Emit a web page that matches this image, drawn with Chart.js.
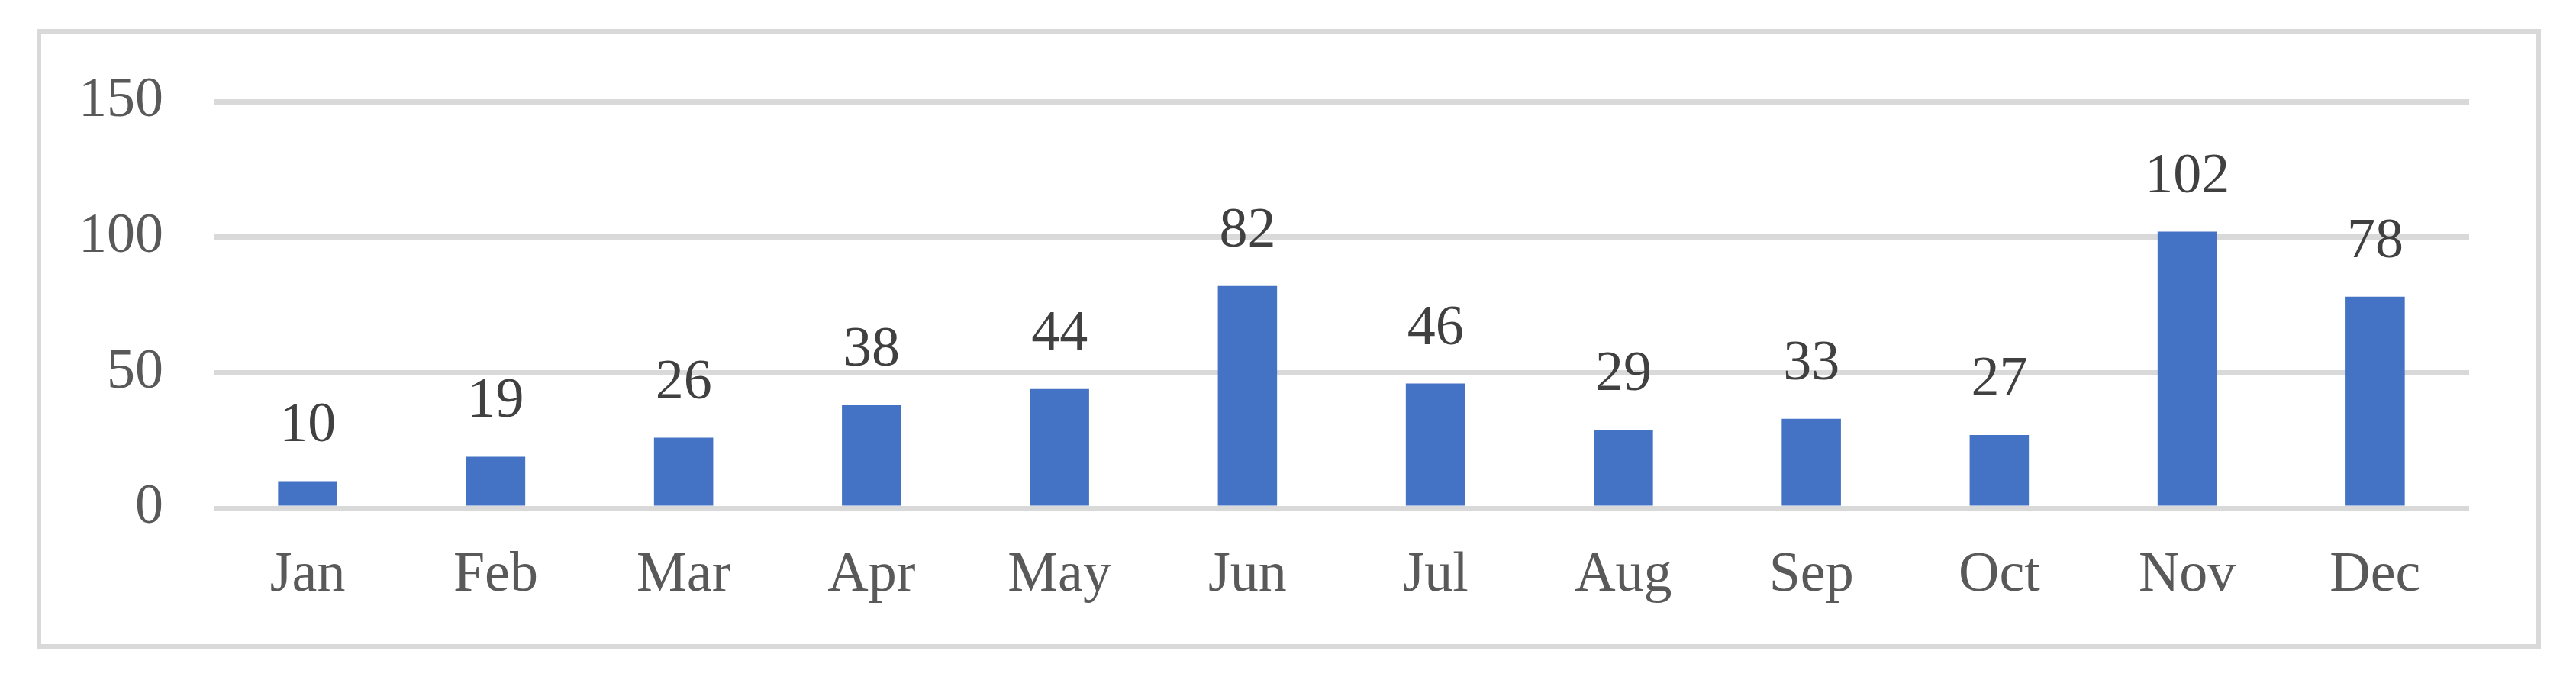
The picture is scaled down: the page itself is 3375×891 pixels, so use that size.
<!DOCTYPE html>
<html>
<head>
<meta charset="utf-8">
<title>Monthly chart</title>
<script src="https://cdn.jsdelivr.net/npm/chart.js@4.4.0/dist/chart.umd.min.js"></script>
<style>
  html, body { margin: 0; padding: 0; background: #ffffff; }
  #wrap { position: relative; width: 3375px; height: 891px; }
  #frame {
    position: absolute; left: 48px; top: 38px; width: 3281px; height: 812px;
    box-sizing: border-box; border: 6px solid #d9d9d9;
  }
  #myChart { position: absolute; left: 0; top: 0; }
</style>
</head>
<body>
<div id="wrap">
  <div id="frame"></div>
  <canvas id="myChart" width="3375" height="891"></canvas>
</div>
<script>
    const months = ['Jan', 'Feb', 'Mar', 'Apr', 'May', 'Jun', 'Jul', 'Aug', 'Sep', 'Oct', 'Nov', 'Dec'];
    const values = [10, 19, 26, 38, 44, 82, 46, 29, 33, 27, 102, 78];
    const yTicks = [0, 50, 100, 150];

    const serif = '"Liberation Serif", "Times New Roman", serif';

    // value labels above each bar
    const barLabels = {
        id: 'barLabels',
        afterDatasetsDraw(chart) {
            const ctx = chart.ctx;
            const meta = chart.getDatasetMeta(0);
            ctx.save();
            ctx.font = '74px ' + serif;
            ctx.fillStyle = '#404040';
            ctx.textAlign = 'center';
            ctx.textBaseline = 'alphabetic';
            meta.data.forEach(function (bar, i) {
                ctx.fillText(String(values[i]), bar.x, bar.y - 52);
            });
            ctx.restore();
        }
    };

    const data = {
        labels: months,
        datasets: [{
            data: values,
            backgroundColor: '#4472C4',
            borderWidth: 0,
            categoryPercentage: 1,
            barPercentage: 0.315
        }]
    };

    const config = {
        type: 'bar',
        data: data,
        options: {
            responsive: false,
            animation: false,
            layout: { padding: { left: 0, right: 140, top: 133, bottom: 0 } },
            plugins: {
                legend: { display: false },
                tooltip: { enabled: false }
            },
            scales: {
                x: {
                    grid: { display: false, drawTicks: false },
                    border: { display: false },
                    ticks: {
                        color: '#595959',
                        padding: 44,
                        font: { family: serif, size: 74 }
                    },
                    afterFit: function (scale) { scale.height = 225; }
                },
                y: {
                    min: 0,
                    max: 150,
                    afterBuildTicks: function (scale) {
                        scale.ticks = yTicks.map(function (v) { return { value: v }; });
                    },
                    grid: { color: '#d9d9d9', lineWidth: 7, drawTicks: false },
                    border: { display: false },
                    ticks: {
                        color: '#595959',
                        padding: 66,
                        font: { family: serif, size: 74 }
                    },
                    afterFit: function (scale) { scale.width = 280; }
                }
            }
        },
        plugins: [barLabels]
    };

    const myChart = new Chart(
        document.getElementById('myChart'),
        config
    );
</script>
</body>
</html>
